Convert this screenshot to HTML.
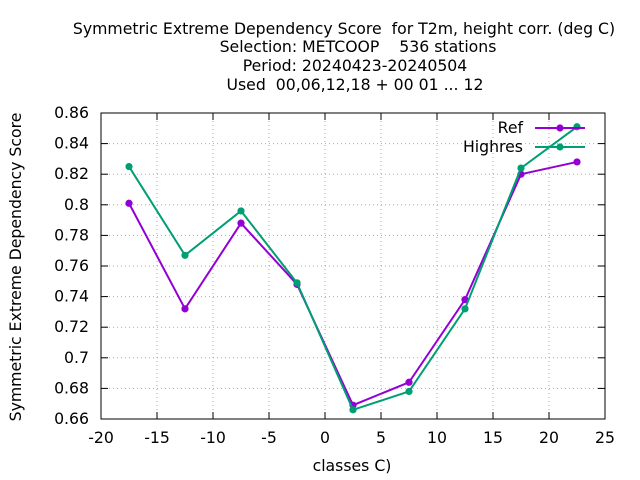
<!DOCTYPE html>
<html><head><meta charset="utf-8"><style>body{margin:0;background:#fff}svg{display:block;font-family:"DejaVu Sans",sans-serif}text{white-space:pre}</style></head>
<body>
<svg id="c" width="640" height="480" xmlns="http://www.w3.org/2000/svg">
<g font-size="15.7" text-anchor="middle" fill="#000">
<text x="344" y="34">Symmetric Extreme Dependency Score  for T2m, height corr. (deg C)</text>
<text x="358" y="52">Selection: METCOOP    536 stations</text>
<text x="355" y="71">Period: 20240423-20240504</text>
<text x="355" y="90">Used  00,06,12,18 + 00 01 ... 12</text>
</g>
<text x="21" y="267" font-size="15.7" text-anchor="middle" transform="rotate(-90 21 267)">Symmetric Extreme Dependency Score</text>
<text x="352" y="471" font-size="15.7" text-anchor="middle">classes C)</text>
<g id="grid"></g>
<g id="ticks"></g>
<rect x="101" y="113" width="504" height="306" fill="none" stroke="#000" stroke-width="1"/>
<g id="series"></g>
<g id="legend"></g>
</svg>
<script>
const xCats = [-17.5,-12.5,-7.5,-2.5,2.5,7.5,12.5,17.5,22.5];
const refVals = [0.801,0.732,0.788,0.748,0.669,0.684,0.738,0.820,0.828];
const hiVals = [0.825,0.767,0.796,0.749,0.666,0.678,0.732,0.824,0.851];
const xTicks = [-20,-15,-10,-5,0,5,10,15,20,25];
const yTicks = [0.66,0.68,0.7,0.72,0.74,0.76,0.78,0.8,0.82,0.84,0.86];
const seriesNames = ["Ref","Highres"];
const seriesColors = ["#9400d3","#009e73"];
const X0=101,X1=605,Y0=419,Y1=113;
const xs=v=>X0+(v+20)/45*(X1-X0);
const ys=v=>Y0-(v-0.66)/0.2*(Y0-Y1);
const NS="http://www.w3.org/2000/svg";
function mk(t,a,p){const e=document.createElementNS(NS,t);for(const k in a)e.setAttribute(k,a[k]);p.appendChild(e);return e;}
const grid=document.getElementById('grid'),ticks=document.getElementById('ticks');
xTicks.forEach(t=>{const x=xs(t);
 if(t>-20&&t<25){const g=mk('line',{x1:x,x2:x,y1:Y1,y2:Y0,stroke:'#aaa','stroke-dasharray':'1,3'},grid);
 
 }
 mk('line',{x1:x,x2:x,y1:Y0,y2:Y0-7,stroke:'#000'},ticks);
 mk('line',{x1:x,x2:x,y1:Y1,y2:Y1+7,stroke:'#000'},ticks);
 const l=mk('text',{x:x,y:Y0+24,'font-size':15.7,'text-anchor':'middle'},ticks);l.textContent=t;
 
 });
yTicks.forEach(t=>{const y=ys(t);
 if(t>0.661&&t<0.859){const g=mk('line',{x1:X0,x2:X1,y1:y,y2:y,stroke:'#aaa','stroke-dasharray':'1,3'},grid);
 
 }
 mk('line',{x1:X0,x2:X0+7,y1:y,y2:y,stroke:'#000'},ticks);
 mk('line',{x1:X1,x2:X1-7,y1:y,y2:y,stroke:'#000'},ticks);
 const l=mk('text',{x:X0-12,y:y+5,'font-size':15.7,'text-anchor':'end'},ticks);l.textContent=(+t.toFixed(2)).toString();
 
 });
const ser=document.getElementById('series'),leg=document.getElementById('legend');
[refVals,hiVals].forEach((vals,i)=>{
 const g=mk('g',{},ser);
 
 
 mk('polyline',{points:vals.map((v,j)=>xs(xCats[j])+','+ys(v)).join(' '),fill:'none',stroke:seriesColors[i],'stroke-width':2},g);
 vals.forEach((v,j)=>{const c=mk('circle',{cx:xs(xCats[j]),cy:ys(v),r:3.6,fill:seriesColors[i]},g);
  
  });
 const ly=128+i*19;
 const e=mk('g',{},leg);
 
 
 const t=mk('text',{x:523,y:ly+5,'font-size':15.7,'text-anchor':'end'},e);t.textContent=seriesNames[i];
 mk('line',{x1:535,x2:585,y1:ly,y2:ly,stroke:seriesColors[i],'stroke-width':2},e);
 mk('circle',{cx:560,cy:ly,r:3.6,fill:seriesColors[i]},e);
});
</script>
</body></html>
